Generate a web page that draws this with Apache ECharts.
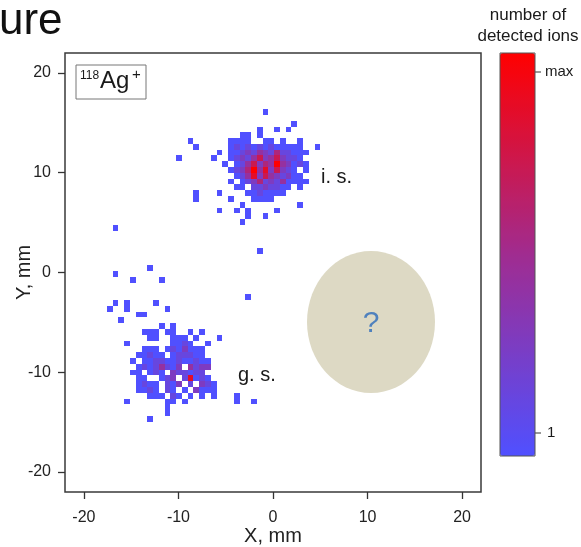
<!DOCTYPE html>
<html>
<head>
<meta charset="utf-8">
<script src="https://cdn.jsdelivr.net/npm/echarts@6/dist/echarts.min.js"></script>
<style>
  html, body { margin: 0; padding: 0; background: #fff; }
  #chart { width: 581px; height: 547px; }
</style>
</head>
<body>
<div id="chart"></div>
<script>
// Position-sensitive detector image of 118Ag+ : 2-D histogram, cells are [xBin, yBin, count]
const BIN_X = 0.61;          // bin width along X, mm
const BIN_Y = 0.58;          // bin height along Y, mm
const X_ORIGIN = -16.65;     // X centre of bin 0, mm
const Y_ORIGIN = 4.48;       // Y centre of bin 0, mm
const COUNT_MAX = 8;

const tickValues = [-20, -10, 0, 10, 20];
const colorbarLabels = ['max', '1'];

// isomeric state spot (upper cluster)
const isomerCells = [
  [26,20,1],
  [31,18,1],
  [25,17,1],[28,17,1],[30,17,1],
  [22,16,1],[23,16,1],[25,16,1],
  [13,15,1],[20,15,1],[21,15,1],[22,15,1],[23,15,1],[26,15,1],[27,15,1],[29,15,1],[32,15,1],
  [14,14,1],[20,14,1],[21,14,2],[22,14,1],[23,14,2],[24,14,1],[25,14,2],[26,14,1],[27,14,2],[28,14,1],[29,14,1],[30,14,1],[31,14,1],[32,14,1],[35,14,1],
  [18,13,1],[20,13,1],[21,13,1],[22,13,2],[23,13,3],[24,13,2],[25,13,4],[26,13,3],[27,13,2],[28,13,5],[29,13,2],[30,13,2],[31,13,1],[32,13,1],[33,13,1],
  [11,12,1],[17,12,1],[20,12,1],[21,12,2],[22,12,3],[23,12,2],[24,12,4],[25,12,6],[26,12,3],[27,12,4],[28,12,6],[29,12,3],[30,12,2],[31,12,2],[32,12,1],
  [19,11,1],[21,11,1],[22,11,2],[23,11,4],[24,11,6],[25,11,3],[26,11,5],[27,11,4],[28,11,8],[29,11,4],[30,11,3],[31,11,1],[32,11,2],[33,11,1],
  [20,10,1],[21,10,2],[22,10,3],[23,10,5],[24,10,8],[25,10,4],[26,10,7],[27,10,3],[28,10,6],[29,10,3],[30,10,2],[31,10,1],[33,10,1],
  [21,9,1],[22,9,2],[23,9,4],[24,9,7],[25,9,3],[26,9,6],[27,9,4],[28,9,3],[29,9,2],[30,9,3],[31,9,1],[32,9,1],
  [20,8,1],[22,8,1],[23,8,2],[24,8,3],[25,8,5],[26,8,2],[27,8,3],[28,8,2],[29,8,4],[30,8,1],[31,8,1],[32,8,1],[33,8,1],
  [21,7,1],[22,7,1],[24,7,2],[25,7,2],[26,7,3],[27,7,2],[28,7,2],[29,7,1],[30,7,1],[32,7,1],
  [14,6,1],[18,6,1],[23,6,1],[24,6,1],[25,6,2],[26,6,1],[27,6,1],[28,6,1],[29,6,1],
  [14,5,1],[20,5,1],[24,5,1],[25,5,1],[26,5,1],[27,5,1],
  [22,4,1],[32,4,1],
  [18,3,1],[21,3,1],[23,3,1],[28,3,1],
  [23,2,1],[26,2,1],
  [22,1,1],
  [25,-4,1]
];

// ground state spot (lower cluster)
const groundCells = [
  [8,-17,1],[10,-17,1],
  [5,-18,1],[6,-18,1],[7,-18,1],[9,-18,1],[10,-18,1],[13,-18,1],[15,-18,1],
  [6,-19,1],[7,-19,1],[10,-19,1],[11,-19,1],[12,-19,1],[14,-19,1],[18,-19,1],
  [2,-20,1],[10,-20,1],[11,-20,1],[12,-20,2],[13,-20,1],[16,-20,1],
  [5,-21,1],[6,-21,1],[7,-21,1],[9,-21,1],[10,-21,2],[11,-21,1],[12,-21,3],[13,-21,1],[14,-21,1],[15,-21,1],
  [4,-22,1],[5,-22,1],[6,-22,2],[7,-22,1],[8,-22,1],[10,-22,1],[11,-22,2],[12,-22,2],[13,-22,2],[14,-22,1],[15,-22,1],
  [3,-23,1],[5,-23,1],[6,-23,1],[7,-23,2],[8,-23,2],[9,-23,1],[10,-23,1],[11,-23,2],[12,-23,1],[13,-23,1],[14,-23,2],[15,-23,1],[16,-23,1],
  [4,-24,1],[5,-24,2],[6,-24,1],[7,-24,2],[8,-24,4],[9,-24,2],[10,-24,1],[11,-24,3],[13,-24,4],[14,-24,2],[15,-24,3],[16,-24,3],
  [3,-25,1],[4,-25,1],[6,-25,1],[7,-25,2],[8,-25,1],[10,-25,3],[11,-25,2],[12,-25,2],[13,-25,1],[14,-25,2],[15,-25,2],
  [4,-26,1],[5,-26,1],[8,-26,1],[9,-26,2],[10,-26,3],[12,-26,2],[13,-26,7],[14,-26,1],[15,-26,2],[16,-26,1],
  [4,-27,1],[5,-27,2],[6,-27,1],[7,-27,1],[9,-27,2],[10,-27,1],[11,-27,3],[13,-27,2],[15,-27,3],[16,-27,2],[17,-27,1],
  [4,-28,1],[5,-28,1],[6,-28,2],[7,-28,1],[9,-28,2],[10,-28,1],[12,-28,1],[14,-28,3],[15,-28,1],[16,-28,1],[17,-28,1],
  [6,-29,1],[7,-29,1],[8,-29,1],[10,-29,2],[11,-29,1],[13,-29,1],[15,-29,1],[17,-29,1],[21,-29,1],
  [2,-30,1],[9,-30,1],[10,-30,1],[12,-30,1],[21,-30,1],[24,-30,1],
  [9,-31,1],
  [9,-32,1],
  [6,-33,1]
];

// isolated hits between the two spots
const scatteredCells = [
  [0,0,1],[6,-7,1],[0,-8,1],[3,-9,1],[8,-9,1],[23,-12,1],
  [0,-13,1],[2,-13,1],[7,-13,1],[-1,-14,1],[2,-14,1],[9,-14,1],
  [4,-15,1],[5,-15,1],[1,-16,1]
];

const cells = isomerCells.concat(groundCells, scatteredCells).map(function (c) {
  return [X_ORIGIN + c[0] * BIN_X, Y_ORIGIN + c[1] * BIN_Y, c[2]];
});

const FONT = '"Liberation Sans", Arial, sans-serif';
const chart = echarts.init(document.getElementById('chart'), null, { renderer: 'canvas' });

function renderCell(params, api) {
  const x = api.value(0), y = api.value(1);
  const a = api.coord([x - BIN_X / 2, y + BIN_Y / 2]);
  const b = api.coord([x + BIN_X / 2, y - BIN_Y / 2]);
  const x0 = Math.round(a[0]), y0 = Math.round(a[1]);
  const x1 = Math.round(b[0]), y1 = Math.round(b[1]);
  return {
    type: 'rect',
    shape: { x: x0, y: y0, width: x1 - x0, height: y1 - y0 },
    style: { fill: api.visual('color') }
  };
}

const axisCommon = {
  type: 'value',
  min: -22,
  max: 22,
  axisLine: { show: false, onZero: false },
  splitLine: { show: false },
  axisTick: {
    show: true, inside: false, length: 7,
    customValues: tickValues,
    lineStyle: { color: '#333', width: 1.3 }
  },
  axisLabel: {
    customValues: tickValues,
    color: '#222', fontSize: 16, fontFamily: FONT
  },
  nameLocation: 'middle',
  nameMoveOverlap: false,
  nameTextStyle: { color: '#222', fontSize: 20, fontFamily: FONT }
};

function label(x, y, text, size, opts, z) {
  return {
    type: 'text', x: x, y: y, z: z || 51,
    style: Object.assign({ text: text, font: size + 'px ' + FONT, fill: '#1a1a1a', align: 'left', verticalAlign: 'middle' }, opts || {})
  };
}

chart.setOption({
  animation: false,
  backgroundColor: '#fff',
  grid: {
    left: 65, right: 100, top: 53, bottom: 55,
    outerBoundsMode: 'none',
    containLabel: false,
    show: true, borderColor: '#3a3a3a', borderWidth: 1.5, backgroundColor: '#fff'
  },
  xAxis: Object.assign({}, axisCommon, {
    axisLabel: Object.assign({}, axisCommon.axisLabel, { margin: 18 }),
    name: 'X, mm', nameGap: 34
  }),
  yAxis: Object.assign({}, axisCommon, {
    axisLabel: Object.assign({}, axisCommon.axisLabel, { margin: 14 }),
    name: 'Y, mm', nameGap: 31
  }),
  visualMap: {
    type: 'continuous',
    min: 1, max: COUNT_MAX,
    dimension: 2,
    seriesIndex: 0,
    calculable: false,
    hoverLink: false,
    left: 500, top: 53,
    padding: 0,
    itemWidth: 35, itemHeight: 403,
    text: null,
    inRange: { color: ['#5050ff', '#a02c90', '#ff0000'] }
  },
  series: [{
    type: 'custom',
    renderItem: renderCell,
    encode: { x: 0, y: 1 },
    data: cells,
    clip: true
  }],
  graphic: [
    label(-1, 22, 'ure', 44, { fill: '#111' }),
    // colour bar title
    label(528, 15, 'number of', 17, { align: 'center' }),
    label(528, 36, 'detected ions', 17, { align: 'center' }),
    // colour bar outline and ticks
    { type: 'rect', shape: { x: 500, y: 53, width: 35, height: 403 }, style: { fill: 'none', stroke: '#555', lineWidth: 1 }, z: 100 },
    { type: 'line', shape: { x1: 535, y1: 72, x2: 541, y2: 72 }, style: { stroke: '#333', lineWidth: 1 } },
    { type: 'line', shape: { x1: 535, y1: 433, x2: 541, y2: 433 }, style: { stroke: '#333', lineWidth: 1 } },
    label(545, 72, colorbarLabels[0], 15),
    label(547, 433, colorbarLabels[1], 15),
    // isotope tag
    { type: 'rect', shape: { x: 76, y: 65, width: 70, height: 34 }, style: { fill: '#fff', stroke: '#777', lineWidth: 1 }, z: 50 },
    label(80, 76, '118', 12),
    label(100, 93, 'Ag', 24, { verticalAlign: 'bottom' }),
    label(132, 75, '+', 15),
    // spot labels
    label(321, 177, 'i. s.', 20),
    label(238, 375, 'g. s.', 20),
    // unknown third spot
    { type: 'ellipse', shape: { cx: 371, cy: 322, rx: 64, ry: 71 }, style: { fill: '#ddd9c4' }, z: 60 },
    label(371, 324, '?', 30, { align: 'center', fill: '#4f81bd' }, 61)
  ]
});
</script>
</body>
</html>
